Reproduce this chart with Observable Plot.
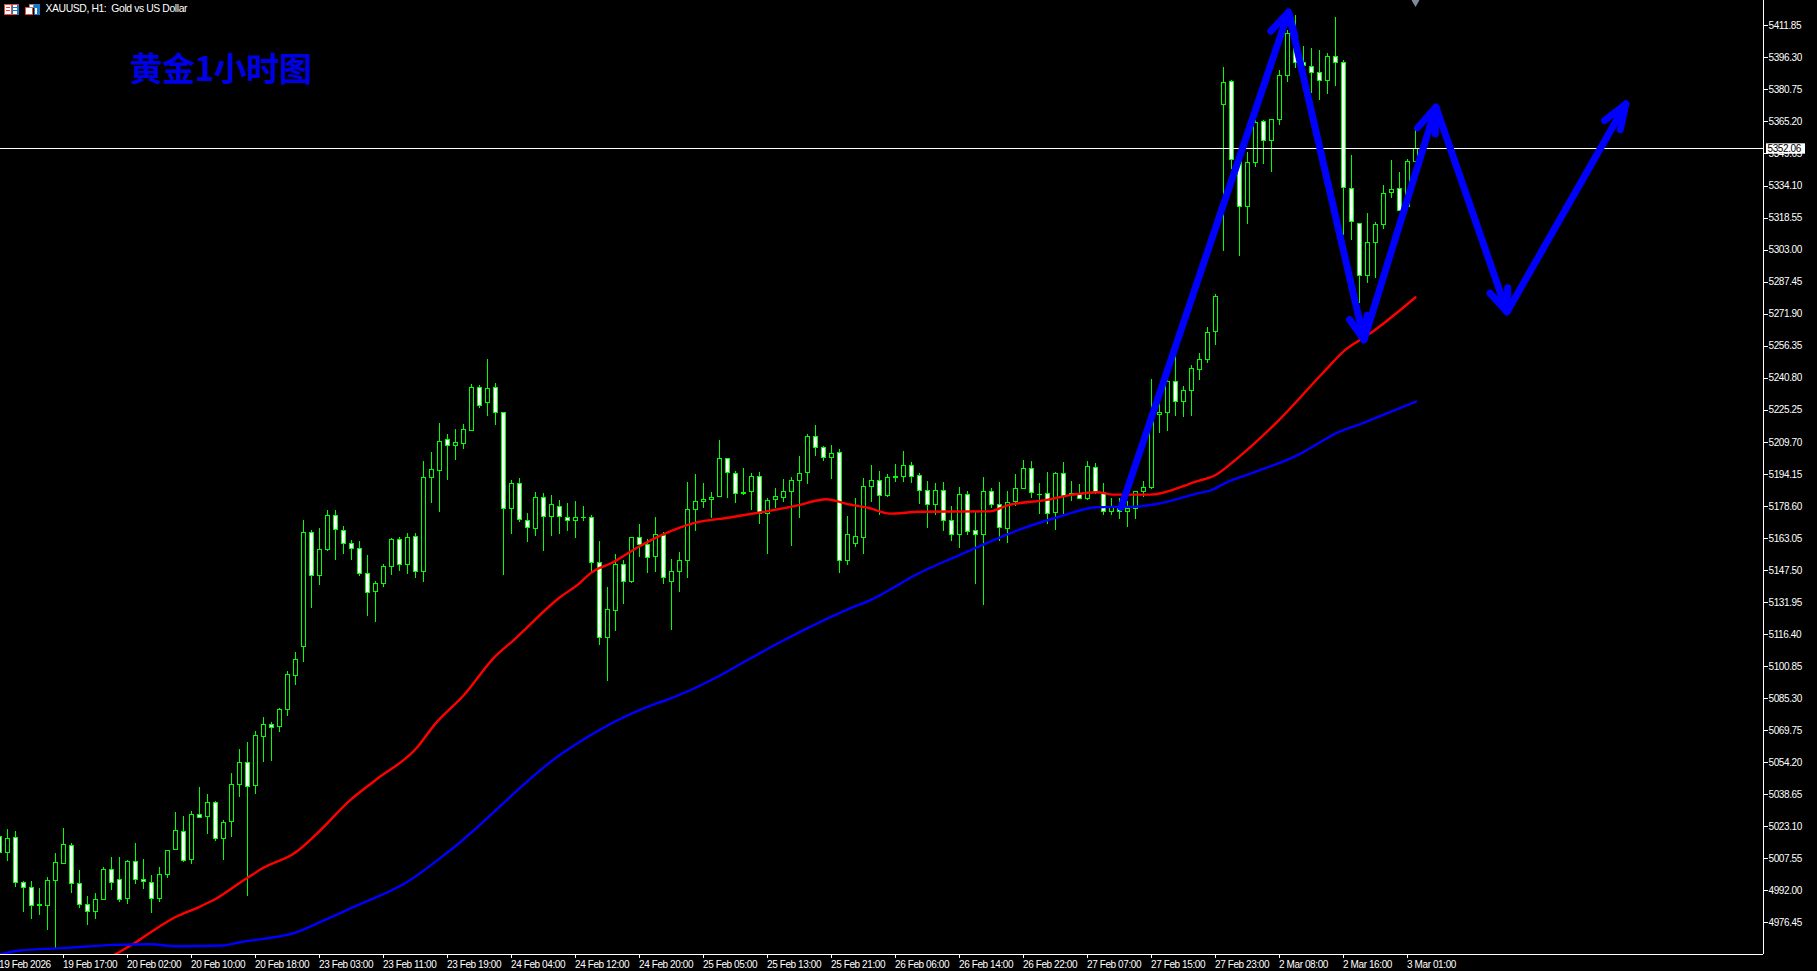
<!DOCTYPE html>
<html>
<head>
<meta charset="utf-8">
<script src="https://cdn.jsdelivr.net/npm/d3@7"></script>
<script src="https://cdn.jsdelivr.net/npm/@observablehq/plot@0.6"></script>
<style>
html,body{margin:0;padding:0;background:#000;overflow:hidden}
svg{display:block}
</style>
</head>
<body>
<div id="chart"></div>
<script>
const firstBar = -1;
const opens = [
5018.1,5010.5,5017.6,4995.9,4993.5,4985.2,4984.8,4996.9,5005.1,5013.9,
4995.4,4985.2,4981.8,4987.7,5002.2,4997.4,4988.2,5006.1,4997.4,4995.9,
4988.0,4999.8,5011.9,5020.7,5007.1,5028.9,5028.0,5034.7,5017.3,5025.5,
5043.5,5054.2,5043.0,5066.8,5072.6,5071.6,5079.9,5096.4,5110.5,5165.8,
5144.9,5157.5,5174.0,5166.8,5160.4,5158.0,5145.9,5137.1,5141.0,5149.3,
5162.4,5150.2,5163.8,5146.8,5192.5,5195.9,5210.9,5208.0,5209.0,5215.3,
5236.1,5228.9,5236.1,5224.0,5177.4,5189.5,5171.6,5167.7,5182.8,5173.5,
5178.4,5173.0,5171.6,5173.1,5173.1,5151.2,5114.8,5127.9,5150.3,5142.0,
5163.4,5160.0,5154.1,5164.3,5142.0,5146.9,5152.2,5176.9,5180.8,5181.8,
5183.3,5201.7,5194.4,5185.0,5185.7,5193.0,5175.0,5181.8,5182.8,5185.7,
5191.0,5194.9,5212.4,5207.0,5202.2,5204.6,5152.2,5160.4,5163.4,5188.1,
5191.0,5183.7,5192.5,5193.0,5198.3,5193.4,5186.2,5179.4,5186.2,5171.6,
5164.8,5184.2,5166.8,5164.8,5185.7,5179.4,5167.7,5180.7,5187.1,5196.8,
5184.3,5184.7,5175.5,5194.4,5184.4,5184.2,5182.3,5197.3,5185.2,5176.0,
5177.9,5176.0,5177.4,5185.7,5187.6,5223.0,5224.0,5239.1,5229.4,5234.7,
5244.9,5249.7,5263.3,5373.5,5384.7,5346.5,5324.0,5345.4,5365.2,5356.0,
5366.2,5387.6,5400.7,5393.9,5391.9,5389.0,5385.1,5396.8,5393.9,5332.6,
5315.7,5290.5,5306.5,5315.3,5330.8,5332.6,5323.8,5345.8];
const highs = [
5019.0,5021.6,5020.8,4996.6,4996.6,4993.0,4998.3,5010.0,5022.1,5014.8,
5001.9,4989.3,4990.6,5003.2,5008.0,5008.0,5006.8,5014.8,5007.1,4999.3,
5003.2,5011.4,5029.9,5027.9,5030.4,5042.0,5038.6,5035.2,5026.2,5048.8,
5060.6,5063.9,5069.2,5076.0,5073.6,5080.5,5098.3,5107.5,5171.8,5166.8,
5167.9,5176.5,5176.5,5168.7,5161.9,5161.6,5154.8,5142.0,5150.2,5162.9,
5163.4,5165.5,5165.3,5200.2,5204.8,5218.7,5213.5,5215.9,5218.4,5237.6,
5237.1,5249.9,5238.1,5224.0,5191.0,5192.0,5175.2,5185.2,5184.7,5183.7,
5181.3,5179.9,5180.8,5178.4,5174.0,5161.6,5139.3,5155.1,5152.2,5163.4,
5169.7,5162.4,5173.1,5165.8,5152.7,5156.1,5190.2,5193.9,5189.6,5185.2,
5210.6,5201.7,5195.4,5196.8,5194.4,5194.9,5182.3,5187.1,5191.5,5192.8,
5202.7,5213.3,5217.9,5207.5,5208.0,5206.1,5173.7,5182.3,5192.0,5198.3,
5195.4,5193.9,5198.8,5205.1,5199.8,5194.4,5190.5,5189.6,5190.0,5178.4,
5187.6,5185.7,5175.5,5192.5,5187.1,5190.0,5185.7,5193.9,5200.7,5200.2,
5189.6,5194.9,5194.9,5199.8,5190.5,5189.1,5200.2,5199.3,5189.6,5182.3,
5182.3,5180.8,5185.7,5190.5,5240.2,5228.4,5239.7,5251.4,5236.6,5246.8,
5252.7,5265.3,5281.5,5391.5,5385.3,5346.8,5350.2,5365.9,5365.9,5366.2,
5390.0,5409.6,5416.8,5401.6,5400.7,5399.7,5398.2,5415.7,5394.8,5348.7,
5315.7,5320.6,5316.2,5334.2,5346.3,5340.5,5346.8,5361.4];
const lows = [
5009.5,5006.4,4993.8,4981.7,4978.0,4980.2,4972.9,4963.9,5005.1,4990.9,
4983.3,4975.4,4978.3,4987.7,4992.2,4986.5,4985.6,4995.3,4992.8,4981.0,
4986.5,4998.2,5011.9,5006.0,5005.0,5027.5,5019.4,5015.8,5006.9,5018.1,
5037.5,4989.4,5039.0,5054.5,5055.0,5069.0,5076.8,5091.9,5103.0,5129.2,
5140.4,5156.6,5152.5,5155.4,5152.5,5144.7,5125.3,5122.4,5139.4,5145.2,
5147.2,5145.7,5143.8,5141.8,5180.1,5175.8,5191.3,5201.0,5206.4,5215.3,
5226.3,5222.4,5218.0,5145.2,5165.1,5170.9,5161.2,5164.1,5156.9,5164.1,
5165.1,5166.6,5163.2,5171.1,5146.4,5111.1,5093.6,5117.9,5131.0,5141.4,
5153.8,5146.0,5146.4,5140.7,5118.4,5136.8,5143.6,5166.4,5177.6,5172.6,
5182.8,5182.4,5180.0,5183.9,5176.5,5169.8,5155.3,5177.4,5180.7,5159.1,
5172.7,5189.2,5202.8,5200.4,5191.5,5146.0,5149.9,5158.7,5155.3,5180.7,
5174.2,5182.9,5190.0,5190.2,5189.6,5179.5,5168.0,5174.0,5166.4,5161.7,
5158.2,5164.5,5140.9,5130.7,5177.4,5161.6,5160.6,5178.4,5186.6,5182.4,
5174.7,5169.8,5166.9,5174.5,5181.0,5181.8,5181.3,5184.4,5174.0,5174.0,
5172.3,5168.5,5172.3,5182.8,5187.0,5214.2,5215.1,5222.4,5221.9,5222.4,
5239.9,5248.1,5256.9,5302.5,5342.1,5300.0,5315.6,5343.3,5344.7,5340.8,
5363.3,5384.5,5391.0,5391.8,5379.2,5375.8,5378.7,5382.5,5310.2,5307.8,
5276.9,5286.8,5289.4,5313.1,5328.2,5321.6,5323.8,5345.8];
const closes = [
5010.5,5017.3,4995.9,4993.5,4984.8,4984.8,4996.9,5005.6,5014.4,4995.4,
4985.2,4981.7,4987.7,5002.2,4995.9,4987.7,5006.1,4997.4,4996.4,4988.2,
4999.8,5011.4,5021.2,5006.6,5028.9,5027.5,5034.7,5017.3,5025.0,5043.5,
5054.2,5042.5,5067.3,5072.6,5071.1,5079.9,5096.9,5104.2,5165.8,5144.9,
5157.5,5174.0,5167.2,5160.4,5158.0,5145.9,5136.7,5141.0,5149.3,5162.4,
5150.2,5163.4,5146.8,5192.5,5196.4,5209.9,5208.0,5209.4,5215.8,5236.1,
5227.4,5235.7,5224.0,5177.4,5189.5,5172.1,5168.2,5182.8,5173.5,5179.4,
5173.5,5171.6,5173.0,5172.9,5151.2,5114.8,5128.4,5150.3,5142.0,5163.4,
5160.0,5153.6,5164.8,5143.9,5146.9,5152.2,5176.9,5180.8,5181.8,5182.8,
5201.7,5194.9,5184.7,5184.5,5193.0,5175.0,5181.3,5183.3,5185.7,5191.0,
5194.4,5212.4,5207.0,5202.2,5204.1,5152.2,5164.8,5163.8,5188.1,5191.0,
5183.7,5192.5,5193.0,5198.3,5193.0,5186.2,5179.4,5186.2,5171.6,5164.8,
5184.2,5166.3,5164.8,5185.7,5179.4,5168.2,5180.3,5187.1,5196.8,5185.2,
5184.1,5175.0,5194.4,5183.7,5184.1,5182.3,5197.8,5185.2,5176.0,5177.9,
5176.0,5177.4,5185.7,5187.6,5223.5,5224.0,5239.1,5229.4,5234.7,5245.4,
5249.7,5262.8,5280.3,5384.2,5346.8,5324.0,5345.4,5364.8,5356.0,5366.2,
5387.6,5407.9,5393.9,5392.4,5389.0,5385.1,5396.8,5393.9,5333.2,5316.7,
5290.5,5306.5,5315.3,5330.3,5332.1,5322.0,5345.8,5352.1];

// moving averages: [bar, price]
const redMA = [[13.44,4961.1],[15.73,4966.3],[17.81,4971.7],[20.94,4979.2],[24.06,4984.4],[26.15,4988.4],[28.23,4993.8],[30.1,4998.6],[31.98,5003.2],[35.94,5010.5],[38.65,5019.7],[42.81,5035.9],[45.94,5045.6],[51.19,5061.6],[53.39,5072.7],[57,5086.8],[60.94,5105.7],[63.2,5113.5],[69.06,5134.5],[71.56,5141.5],[72.81,5146.0],[75.7,5151.5],[78.8,5158.8],[81.9,5164.9],[85.9,5170.6],[90.3,5173.2],[94.9,5176.2],[98.65,5179.0],[102.4,5182.1],[104.9,5179.8],[107.8,5177.7],[110.3,5175.1],[114.06,5176.0],[122.8,5176.2],[124.9,5179.0],[129.9,5181.8],[133.2,5184.3],[136.15,5185.5],[138.2,5184.3],[142.8,5184.3],[148.65,5190.8],[150.9,5193.6],[153.65,5201.7],[158.65,5219.4],[164.5,5243.7],[167.26,5254.7],[168.94,5259.1],[170.8,5263.9],[176,5280.1]];
const blueMA = [[-0.94,4961.1],[1.56,4963.1],[6.98,4964.2],[13.19,4965.8],[17.81,4966.1],[21.15,4965.1],[26.94,4965.5],[29.06,4967.1],[31.94,4968.7],[35.69,4971.4],[39.06,4976.8],[43.19,4984.1],[49.9,4996.2],[55.31,5011.6],[69.3,5058.7],[80.9,5082.7],[82.2,5084.4],[88.65,5095.7],[92.4,5103.8],[96.56,5112.7],[102.4,5124.0],[104.9,5128.4],[108.2,5133.7],[111.56,5141.0],[113.2,5144.7],[119.06,5155.1],[121.98,5160.1],[126.56,5167.4],[131.56,5173.7],[136.15,5178.2],[141.15,5178.5],[144.06,5180.1],[149.06,5185.2],[150.3,5186.3],[152.4,5190.3],[155.3,5194.4],[161.56,5204.1],[164.44,5210.6],[165.6,5213.2],[169.26,5218.8],[176.06,5229.5]];

// hand-drawn forecast arrows: [bar, price]
const arrowPath = [[139.19,5178.07],[160.13,5418.5],[169.56,5259.4],[178.56,5372.4],[187.44,5273.0],[202.29,5373.9]];
const arrowHeads = [
 [[157.91,5409.23],[160.13,5418.5],[160.94,5406.66]],
 [[167.75,5269.31],[169.56,5259.4],[169.94,5271.25]],
 [[176.26,5362.35],[178.56,5372.4],[178.48,5359.44]],
 [[185.31,5282.07],[187.44,5273.0],[187.53,5284.70]],
 [[199.64,5365.89],[202.29,5373.9],[201.60,5361.38]]
];

const priceTicks = [5411.85,5396.30,5380.75,5365.20,5349.65,5334.10,5318.55,5303.00,5287.45,5271.90,5256.35,5240.80,5225.25,5209.70,5194.15,5178.60,5163.05,5147.50,5131.95,5116.40,5100.85,5085.30,5069.75,5054.20,5038.65,5023.10,5007.55,4992.00,4976.45];
const timeLabels = ["19 Feb 2026","19 Feb 17:00","20 Feb 02:00","20 Feb 10:00","20 Feb 18:00","23 Feb 03:00","23 Feb 11:00","23 Feb 19:00","24 Feb 04:00","24 Feb 12:00","24 Feb 20:00","25 Feb 05:00","25 Feb 13:00","25 Feb 21:00","26 Feb 06:00","26 Feb 14:00","26 Feb 22:00","27 Feb 07:00","27 Feb 15:00","27 Feb 23:00","2 Mar 08:00","2 Mar 16:00","3 Mar 01:00"];
const timeTicks = timeLabels.map((_, i) => firstBar + 8 * i);
const lastPrice = 5352.06;
const headerText = "XAUUSD, H1:  Gold vs US Dollar";
const titleText = "黄金1小时图";

const bars = opens.map((o, i) => ({bar: firstBar + i, open: o, high: highs[i], low: lows[i], close: closes[i]}));
const xDomain = [-0.875, 219.5];
const yDomain = [4961.13, 5424.13];
const GREEN = "#00ff00", BLUE = "#0000ff", RED = "#ff0000";

function windowIcons() {
  const g = d3.create("svg:g").attr("shape-rendering", "crispEdges");
  const r = (x, y, w, h, f) => g.append("rect").attr("x", x).attr("y", y).attr("width", w).attr("height", h).attr("fill", f);
  r(4,4,15,11,"#e8463c"); r(5,5,6,9,"#fff"); r(12,5,6,9,"#fff");
  r(6,7,4,1,"#e8463c"); r(6,10,4,1,"#e8463c"); r(12,5,1,9,"#1a78c8"); r(13,7,5,1,"#1a78c8"); r(13,10,5,1,"#1a78c8"); r(17,5,2,10,"#1a78c8");
  r(25,7,8,8,"#e8463c"); r(26,8,6,6,"#fff"); r(29,4,5,4,"#888"); r(30,5,3,2,"#fff");
  r(34,4,6,11,"#1a78c8"); r(35,8,2,6,"#fff");
  return g.node();
}

const chart = Plot.plot({
  width: 1817, height: 971,
  marginLeft: 0, marginRight: 54, marginTop: 0, marginBottom: 17,
  style: {background: "#000", color: "#fff", fontFamily: "'Liberation Sans', sans-serif", fontSize: "10px", letterSpacing: "-0.4px"},
  x: {type: "linear", domain: xDomain, axis: null},
  y: {domain: yDomain, axis: null},
  color: {type: "identity"},
  marks: [
    Plot.ruleX(bars, {x: "bar", y1: "low", y2: "high", stroke: GREEN, strokeWidth: 1, clip: true, shapeRendering: "crispEdges"}),
    Plot.rect(bars, {
      x1: d => d.bar - 0.25, x2: d => d.bar + 0.25, y1: "open", y2: "close",
      fill: d => d.close < d.open ? "#ffffff" : "#000000",
      stroke: GREEN, strokeWidth: 1, clip: true, shapeRendering: "crispEdges"
    }),
    Plot.line(redMA, {x: "0", y: "1", stroke: RED, strokeWidth: 2.4, curve: "monotone-x", clip: true}),
    Plot.line(blueMA, {x: "0", y: "1", stroke: BLUE, strokeWidth: 2.4, curve: "monotone-x", clip: true}),
    Plot.ruleY([lastPrice], {stroke: "#fff", strokeWidth: 1, shapeRendering: "crispEdges"}),
    Plot.dot([176], {x: d => d, y: yDomain[1], symbol: "diamond", r: 4, fill: "#7f8a9a"}),
    Plot.line(arrowPath, {x: "0", y: "1", stroke: BLUE, strokeWidth: 7, strokeLinecap: "round", strokeLinejoin: "round"}),
    ...arrowHeads.map(h => Plot.line(h, {x: "0", y: "1", stroke: BLUE, strokeWidth: 7, strokeLinecap: "round", strokeLinejoin: "round"})),
    Plot.ruleY([yDomain[0]], {stroke: "#fff", strokeWidth: 1, shapeRendering: "crispEdges"}),
    Plot.ruleX([xDomain[1]], {stroke: "#fff", strokeWidth: 1, shapeRendering: "crispEdges"}),
    Plot.axisY(priceTicks, {anchor: "right", label: null, tickSize: 4, tickPadding: 1, stroke: "#fff", color: "#fff", fontSize: 10, tickFormat: d => d.toFixed(2), shapeRendering: "crispEdges"}),
    Plot.axisX(timeTicks, {anchor: "bottom", label: null, tickSize: 4, tickPadding: 2, stroke: "#fff", color: "#fff", fontSize: 10, textAnchor: "start", dx: -0.5, tickFormat: d => timeLabels[(d - firstBar) / 8], shapeRendering: "crispEdges"}),
    Plot.rect([lastPrice], {x1: 219.875, x2: 224.75, y1: 5349.54, y2: 5354.58, fill: "#fff"}),
    Plot.text([lastPrice], {x: 220, y: d => d, text: d => d.toFixed(2), fill: "#000", fontSize: 10, textAnchor: "start"}),
    Plot.text([headerText], {frameAnchor: "top-left", dx: 45, dy: 4, fill: "#fff", fontSize: 10.4}),
    Plot.text([titleText], {frameAnchor: "top-left", dx: 129, dy: 57, fill: "#0000e6", fontSize: 33, fontWeight: 700, fontFamily: "'Noto Sans CJK SC'"}),
    windowIcons
  ]
});
document.getElementById("chart").append(chart);
</script>
</body>
</html>
